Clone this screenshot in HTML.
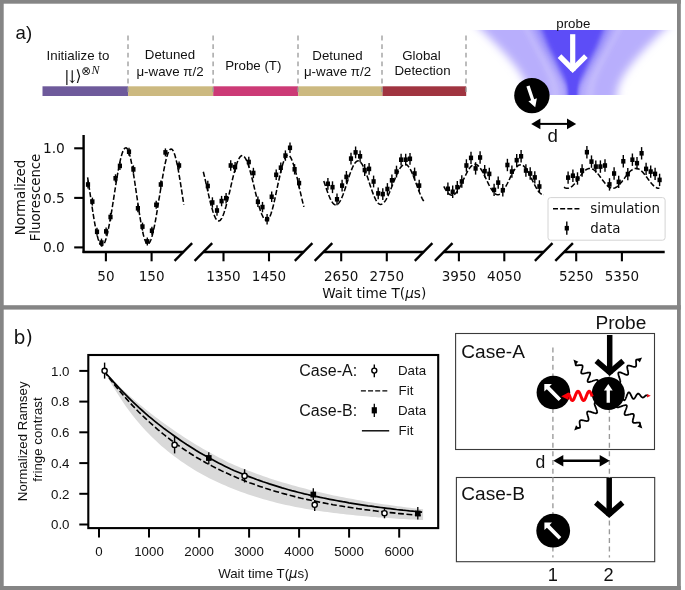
<!DOCTYPE html>
<html lang="en"><head><meta charset="utf-8"><title>Figure</title>
<style>
html,body{margin:0;padding:0;background:#fff;}
body{width:685px;height:590px;overflow:hidden;}
svg{display:block;}
.s{font-family:"Liberation Sans", Arial, sans-serif;fill:#111;}
.d{font-family:"DejaVu Sans", "Liberation Sans", sans-serif;fill:#111;}
</style></head><body>
<svg width="685" height="590" viewBox="0 0 685 590">
<defs>
<filter id="b4" x="-20%" y="-20%" width="140%" height="140%"><feGaussianBlur stdDeviation="4"/></filter>
<filter id="b2" x="-20%" y="-20%" width="140%" height="140%"><feGaussianBlur stdDeviation="2.2"/></filter>
<filter id="b15" x="-20%" y="-20%" width="140%" height="140%"><feGaussianBlur stdDeviation="1.8"/></filter>
<filter id="b3" x="-20%" y="-20%" width="140%" height="140%"><feGaussianBlur stdDeviation="3"/></filter>
<filter id="b25" x="-20%" y="-20%" width="140%" height="140%"><feGaussianBlur stdDeviation="2.6"/></filter>
<filter id="b1" x="-20%" y="-20%" width="140%" height="140%"><feGaussianBlur stdDeviation="1.2"/></filter>
<clipPath id="beamclip"><rect x="468" y="30" width="209" height="65"/></clipPath>
</defs>
<rect x="0" y="0" width="685" height="590" fill="#fff"/>

<g fill="#858585">
<rect x="0" y="0" width="680.8" height="3.7"/>
<rect x="0" y="0" width="3.7" height="590"/>
<rect x="677" y="0" width="3.8" height="590"/>
<rect x="0" y="586" width="680.8" height="4"/>
<rect x="0" y="305.2" width="680.8" height="4.4"/>
</g>
<text class="s" x="15.6" y="39.3" font-size="18.6">a)</text>
<rect x="42.5" y="86.3" width="85.6" height="9.7" fill="#6e5a9b"/>
<rect x="128.1" y="86.3" width="85.1" height="9.7" fill="#ccb980"/>
<rect x="213.2" y="86.3" width="85.0" height="9.7" fill="#cc3a76"/>
<rect x="298.2" y="86.3" width="84.30000000000001" height="9.7" fill="#ccb980"/>
<rect x="382.5" y="86.3" width="83.69999999999999" height="9.7" fill="#a03440"/>
<line x1="128" y1="35.6" x2="128" y2="92.5" stroke="#999" stroke-width="1.3" stroke-dasharray="4.8 3.8"/>
<line x1="213.1" y1="35.6" x2="213.1" y2="92.5" stroke="#999" stroke-width="1.3" stroke-dasharray="4.8 3.8"/>
<line x1="298" y1="35.6" x2="298" y2="92.5" stroke="#999" stroke-width="1.3" stroke-dasharray="4.8 3.8"/>
<line x1="382" y1="35.6" x2="382" y2="92.5" stroke="#999" stroke-width="1.3" stroke-dasharray="4.8 3.8"/>
<line x1="466" y1="35.6" x2="466" y2="92.5" stroke="#999" stroke-width="1.3" stroke-dasharray="4.8 3.8"/>
<text class="s" x="78" y="59.5" font-size="13.3" text-anchor="middle" >Initialize to</text>
<g font-family='"DejaVu Serif","Liberation Serif",serif' fill="#111"><text x="64.3" y="80.6" font-size="15.5">|</text><text transform="translate(66.0,82.8) scale(0.85,1)" font-size="17.5">↓</text><text x="75.4" y="80.6" font-size="15.5">⟩</text><text x="81.3" y="74.6" font-size="11.6" font-family='"DejaVu Sans",sans-serif'>⊗</text><text x="91.6" y="73.8" font-size="12" font-style="italic" font-family='"Liberation Serif",serif'>N</text></g>
<text class="s" x="170" y="59.0" font-size="13.3" text-anchor="middle" >Detuned</text>
<text class="s" x="170" y="75.7" font-size="13.3" text-anchor="middle" >μ-wave π/2</text>
<text class="s" x="253.3" y="69.7" font-size="13.3" text-anchor="middle" >Probe (T)</text>
<text class="s" x="337.5" y="59.5" font-size="13.3" text-anchor="middle" >Detuned</text>
<text class="s" x="337.5" y="76" font-size="13.3" text-anchor="middle" >μ-wave π/2</text>
<text class="s" x="421.5" y="59.6" font-size="13.3" text-anchor="middle" >Global</text>
<text class="s" x="422.5" y="74.9" font-size="13.3" text-anchor="middle" >Detection</text>
<g clip-path="url(#beamclip)">
<path d="M471.1,20.0 L474.1,22.8 L477.1,25.7 L480.1,28.5 L483.1,31.3 L486.0,34.2 L488.9,37.0 L491.7,39.8 L494.5,42.7 L497.3,45.5 L500.0,48.3 L502.7,51.2 L505.2,54.0 L507.8,56.8 L510.2,59.7 L512.5,62.5 L514.8,65.3 L516.9,68.2 L518.9,71.0 L520.8,73.8 L522.5,76.7 L524.0,79.5 L525.4,82.3 L526.5,85.2 L527.4,88.0 L528.1,90.8 L528.5,93.7 L528.7,96.5 L528.6,99.3 L528.3,102.2 L527.7,105.0 L617.7,105.0 L617.1,102.2 L616.8,99.3 L616.7,96.5 L616.9,93.7 L617.3,90.8 L618.0,88.0 L618.9,85.2 L620.0,82.3 L621.4,79.5 L622.9,76.7 L624.6,73.8 L626.5,71.0 L628.5,68.2 L630.6,65.3 L632.9,62.5 L635.2,59.7 L637.6,56.8 L640.2,54.0 L642.7,51.2 L645.4,48.3 L648.1,45.5 L650.9,42.7 L653.7,39.8 L656.5,37.0 L659.4,34.2 L662.3,31.3 L665.3,28.5 L668.3,25.7 L671.3,22.8 L674.3,20.0Z" fill="#b8aefc" filter="url(#b4)"/>
<path d="M525.2,24 L528.7,30 L537.7,47 L544.2,60 L548.2,69 L551.2,76 L553.7,84 L555.2,93 L555.7,100" fill="none" stroke="#fff" stroke-opacity="0.17" stroke-width="7" filter="url(#b25)"/>
<path d="M620.2,24 L616.7,30 L607.7,47 L601.2,60 L597.2,69 L594.2,76 L591.7,84 L590.2,93 L589.7,100" fill="none" stroke="#fff" stroke-opacity="0.17" stroke-width="7" filter="url(#b25)"/>
<path d="M525.4,20.0 L530.6,30.0 L539.6,47.0 L547.8,60.0 L553.1,69.0 L557.4,76.0 L559.7,80.0 L561.9,84.0 L563.7,88.5 L564.7,93.0 L564.7,105.0 L580.7,105.0 L580.7,93.0 L581.7,88.5 L583.5,84.0 L585.7,80.0 L588.0,76.0 L592.3,69.0 L597.6,60.0 L605.8,47.0 L614.8,30.0 L620.0,20.0Z" fill="#aea4fb" filter="url(#b3)"/>
<path d="M532.0,20.0 L536.6,30.0 L544.5,47.0 L552.0,60.0 L556.8,69.0 L560.6,76.0 L562.7,80.0 L564.7,84.0 L566.1,88.5 L566.9,93.0 L566.9,105.0 L578.5,105.0 L578.5,93.0 L579.3,88.5 L580.7,84.0 L582.7,80.0 L584.8,76.0 L588.6,69.0 L593.4,60.0 L600.9,47.0 L608.8,30.0 L613.4,20.0Z" fill="#9389f9" filter="url(#b25)"/>
<path d="M538.1,20.0 L542.2,30.0 L549.1,47.0 L555.8,60.0 L560.0,69.0 L563.4,76.0 L565.3,80.0 L567.0,84.0 L568.2,88.5 L568.7,93.0 L568.7,105.0 L576.7,105.0 L576.7,93.0 L577.2,88.5 L578.4,84.0 L580.1,80.0 L582.0,76.0 L585.4,69.0 L589.6,60.0 L596.3,47.0 L603.2,30.0 L607.3,20.0Z" fill="#5d4df7" filter="url(#b2)"/>
<path d="M566.7,70.0 L567.1,76.0 L567.7,80.0 L568.3,84.0 L568.7,88.5 L568.9,93.0 L568.9,105.0 L576.5,105.0 L576.5,93.0 L576.7,88.5 L577.1,84.0 L577.7,80.0 L578.3,76.0 L578.7,70.0Z" fill="#5d4df7" filter="url(#b1)"/>
</g>
<path d="M572.7,34.2 V71" stroke="#fff" stroke-width="5.2" fill="none"/>
<path d="M559.5,56.2 L572.7,69.4 L585.9000000000001,56.2" stroke="#fff" stroke-width="5.2" fill="none" stroke-linejoin="miter"/>
<text class="s" x="573.3" y="27.5" font-size="13.3" text-anchor="middle" >probe</text>
<circle cx="531.9" cy="95.6" r="17.7" fill="#000"/>
<polygon points="526.4,86.5 531.1,100.2 528.4,101.2 535.2,107.3 536.9,98.3 534.2,99.2 529.6,85.5" fill="#fff"/>
<line x1="539.4000000000001" y1="123.9" x2="568.0" y2="123.9" stroke="#000" stroke-width="2.0"/>
<polygon points="531.2,123.9 540.4000000000001,118.5 540.4000000000001,129.3" fill="#000"/>
<polygon points="576.2,123.9 567.0,118.5 567.0,129.3" fill="#000"/>
<text class="s" x="552.8" y="141.5" font-size="18.7" text-anchor="middle" >d</text>
<g stroke="#000" stroke-width="2.4" fill="none" stroke-linecap="butt">
<path d="M83.6,135 V253"/>
<path d="M82.6,252 H183.35"/>
<path d="M203.4,252 H303.6"/>
<path d="M323.5,252 H423.6"/>
<path d="M443.7,252 H543.7"/>
<path d="M564.1,252 H664.7"/>
<path d="M74.2,247.4 H83.6" stroke-width="2.1"/>
<path d="M74.2,197.9 H83.6" stroke-width="2.1"/>
<path d="M74.2,148.3 H83.6" stroke-width="2.1"/>
<path d="M105.9,252 V261.3" stroke-width="2.1"/>
<path d="M151.6,252 V261.3" stroke-width="2.1"/>
<path d="M223.5,252 V261.3" stroke-width="2.1"/>
<path d="M269.0,252 V261.3" stroke-width="2.1"/>
<path d="M341.2,252 V261.3" stroke-width="2.1"/>
<path d="M386.8,252 V261.3" stroke-width="2.1"/>
<path d="M458.9,252 V261.3" stroke-width="2.1"/>
<path d="M504.3,252 V261.3" stroke-width="2.1"/>
<path d="M576.2,252 V261.3" stroke-width="2.1"/>
<path d="M621.9,252 V261.3" stroke-width="2.1"/>
<path d="M174.54999999999998,260.8 L192.15,243.2"/>
<path d="M194.6,260.8 L212.20000000000002,243.2"/>
<path d="M294.8,260.8 L312.40000000000003,243.2"/>
<path d="M314.7,260.8 L332.3,243.2"/>
<path d="M414.8,260.8 L432.40000000000003,243.2"/>
<path d="M434.9,260.8 L452.5,243.2"/>
<path d="M534.9000000000001,260.8 L552.5,243.2"/>
<path d="M555.3000000000001,260.8 L572.9,243.2"/>
</g>
<text class="d" x="105.9" y="280.8" font-size="13.5" text-anchor="middle" >50</text>
<text class="d" x="151.6" y="280.8" font-size="13.5" text-anchor="middle" >150</text>
<text class="d" x="223.5" y="280.8" font-size="13.5" text-anchor="middle" >1350</text>
<text class="d" x="269.0" y="280.8" font-size="13.5" text-anchor="middle" >1450</text>
<text class="d" x="341.2" y="280.8" font-size="13.5" text-anchor="middle" >2650</text>
<text class="d" x="386.8" y="280.8" font-size="13.5" text-anchor="middle" >2750</text>
<text class="d" x="458.9" y="280.8" font-size="13.5" text-anchor="middle" >3950</text>
<text class="d" x="504.3" y="280.8" font-size="13.5" text-anchor="middle" >4050</text>
<text class="d" x="576.2" y="280.8" font-size="13.5" text-anchor="middle" >5250</text>
<text class="d" x="621.9" y="280.8" font-size="13.5" text-anchor="middle" >5350</text>
<text class="d" x="64.9" y="252.4" font-size="13.8" text-anchor="end">0.0</text>
<text class="d" x="64.9" y="202.9" font-size="13.8" text-anchor="end">0.5</text>
<text class="d" x="64.9" y="153.3" font-size="13.8" text-anchor="end">1.0</text>
<text class="d" font-size="13.3" text-anchor="middle" transform="translate(25.2,197.5) rotate(-90)">Normalized</text>
<text class="d" font-size="13.3" text-anchor="middle" transform="translate(40,197.5) rotate(-90)">Fluorescence</text>
<text class="d" x="374.2" y="297.5" font-size="13.6" text-anchor="middle">Wait time T(<tspan font-style="italic">μ</tspan>s)</text>
<path d="M87.6,177.4 L88.4,182.5 L89.2,187.7 L90.0,193.0 L90.8,198.4 L91.6,203.8 L92.4,209.0 L93.2,214.2 L94.0,219.1 L94.8,223.7 L95.6,228.0 L96.4,232.0 L97.2,235.5 L98.0,238.5 L98.8,241.0 L99.6,243.0 L100.4,244.5 L101.2,245.3 L102.0,245.6 L102.8,245.3 L103.6,244.5 L104.4,243.1 L105.2,241.2 L106.0,238.8 L106.8,236.0 L107.6,232.7 L108.4,229.0 L109.2,224.9 L110.0,220.5 L110.8,215.9 L111.7,211.0 L112.5,206.0 L113.3,200.9 L114.1,195.7 L114.9,190.5 L115.7,185.5 L116.5,180.5 L117.3,175.7 L118.1,171.2 L118.9,166.9 L119.7,163.0 L120.5,159.4 L121.3,156.3 L122.1,153.6 L122.9,151.4 L123.7,149.7 L124.5,148.5 L125.3,147.9 L126.1,147.8 L126.9,148.4 L127.7,149.5 L128.5,151.3 L129.3,153.6 L130.1,156.5 L130.9,160.0 L131.7,163.8 L132.5,168.1 L133.3,172.8 L134.1,177.8 L134.9,183.0 L135.7,188.4 L136.5,193.9 L137.3,199.4 L138.1,204.8 L138.9,210.2 L139.7,215.3 L140.5,220.2 L141.3,224.8 L142.1,229.0 L142.9,232.8 L143.7,236.1 L144.5,238.8 L145.3,241.0 L146.1,242.6 L146.9,243.6 L147.7,244.0 L148.5,243.8 L149.3,243.0 L150.1,241.7 L150.9,239.8 L151.7,237.5 L152.5,234.6 L153.3,231.4 L154.1,227.7 L154.9,223.6 L155.7,219.3 L156.5,214.6 L157.3,209.8 L158.1,204.8 L158.9,199.7 L159.8,194.6 L160.6,189.5 L161.4,184.4 L162.2,179.6 L163.0,174.9 L163.8,170.4 L164.6,166.3 L165.4,162.5 L166.2,159.1 L167.0,156.2 L167.8,153.7 L168.6,151.7 L169.4,150.3 L170.2,149.4 L171.0,149.0 L171.8,149.2 L172.6,150.0 L173.4,151.3 L174.2,153.2 L175.0,155.6 L175.8,158.5 L176.6,161.8 L177.4,165.6 L178.2,169.7 L179.0,174.2 L179.8,179.0 L180.6,183.9 L181.4,189.0 L182.2,194.2 L183.0,199.4 L183.8,204.6" fill="none" stroke="#000" stroke-width="1.55" stroke-dasharray="5.2 2.2"/>
<path d="M203.3,171.8 L204.1,175.0 L204.9,178.4 L205.7,181.9 L206.5,185.5 L207.3,189.1 L208.1,192.7 L208.9,196.2 L209.7,199.7 L210.5,203.0 L211.3,206.1 L212.2,209.0 L213.0,211.7 L213.8,214.1 L214.6,216.1 L215.4,217.8 L216.2,219.2 L217.0,220.2 L217.8,220.8 L218.6,221.0 L219.4,220.8 L220.2,220.3 L221.0,219.3 L221.8,218.1 L222.6,216.4 L223.4,214.5 L224.2,212.3 L225.0,209.7 L225.8,207.0 L226.6,204.0 L227.4,200.8 L228.2,197.5 L229.1,194.1 L229.9,190.7 L230.7,187.2 L231.5,183.7 L232.3,180.2 L233.1,176.9 L233.9,173.7 L234.7,170.6 L235.5,167.8 L236.3,165.2 L237.1,162.8 L237.9,160.8 L238.7,159.1 L239.5,157.7 L240.3,156.6 L241.1,155.9 L241.9,155.6 L242.7,155.7 L243.5,156.1 L244.3,156.8 L245.1,157.9 L246.0,159.3 L246.8,161.0 L247.6,163.0 L248.4,165.3 L249.2,167.8 L250.0,170.5 L250.8,173.5 L251.6,176.5 L252.4,179.7 L253.2,183.0 L254.0,186.3 L254.8,189.7 L255.6,193.0 L256.4,196.3 L257.2,199.5 L258.0,202.6 L258.8,205.5 L259.6,208.2 L260.4,210.7 L261.2,213.0 L262.1,215.0 L262.9,216.7 L263.7,218.1 L264.5,219.2 L265.3,219.9 L266.1,220.3 L266.9,220.4 L267.7,220.0 L268.5,219.1 L269.3,217.9 L270.1,216.2 L270.9,214.1 L271.7,211.6 L272.5,208.8 L273.3,205.7 L274.1,202.3 L274.9,198.8 L275.7,195.0 L276.5,191.2 L277.3,187.4 L278.1,183.5 L279.0,179.7 L279.8,176.0 L280.6,172.5 L281.4,169.2 L282.2,166.2 L283.0,163.4 L283.8,161.0 L284.6,159.0 L285.4,157.4 L286.2,156.2 L287.0,155.5 L287.8,155.2 L288.6,155.4 L289.4,155.9 L290.2,156.8 L291.0,158.1 L291.8,159.8 L292.6,161.8 L293.4,164.2 L294.2,166.8 L295.0,169.7 L295.9,172.7 L296.7,176.0 L297.5,179.4 L298.3,183.0 L299.1,186.6 L299.9,190.2 L300.7,193.7 L301.5,197.2 L302.3,200.6 L303.1,203.8 L303.9,206.9" fill="none" stroke="#000" stroke-width="1.55" stroke-dasharray="5.2 2.2"/>
<path d="M323.8,181.0 L324.6,183.4 L325.4,185.8 L326.2,188.2 L327.0,190.5 L327.8,192.7 L328.6,194.8 L329.4,196.8 L330.2,198.6 L331.0,200.2 L331.8,201.6 L332.6,202.8 L333.4,203.7 L334.2,204.4 L335.0,204.8 L335.8,205.0 L336.6,204.9 L337.4,204.5 L338.2,203.8 L339.0,202.9 L339.8,201.7 L340.6,200.3 L341.4,198.7 L342.2,196.8 L343.0,194.8 L343.8,192.6 L344.6,190.3 L345.4,187.9 L346.2,185.4 L347.0,183.0 L347.8,180.5 L348.6,178.0 L349.4,175.6 L350.2,173.3 L351.0,171.1 L351.8,169.1 L352.6,167.2 L353.4,165.6 L354.2,164.2 L355.0,163.0 L355.8,162.1 L356.6,161.4 L357.4,161.0 L358.2,160.9 L359.0,161.1 L359.8,161.5 L360.6,162.2 L361.4,163.2 L362.2,164.4 L363.0,165.8 L363.8,167.5 L364.6,169.3 L365.4,171.3 L366.2,173.5 L367.0,175.8 L367.8,178.1 L368.6,180.5 L369.4,183.0 L370.2,185.4 L371.0,187.8 L371.8,190.1 L372.6,192.4 L373.4,194.5 L374.2,196.4 L375.0,198.2 L375.8,199.8 L376.6,201.2 L377.4,202.4 L378.2,203.3 L379.0,203.9 L379.8,204.3 L380.6,204.4 L381.4,204.3 L382.2,203.9 L383.0,203.4 L383.8,202.6 L384.6,201.7 L385.4,200.6 L386.2,199.3 L387.0,197.8 L387.8,196.2 L388.6,194.5 L389.4,192.7 L390.2,190.8 L391.0,188.8 L391.8,186.8 L392.6,184.7 L393.4,182.7 L394.2,180.6 L395.0,178.6 L395.8,176.7 L396.6,174.8 L397.4,173.1 L398.2,171.5 L399.0,169.9 L399.8,168.6 L400.6,167.4 L401.4,166.4 L402.2,165.6 L403.0,165.0 L403.8,164.5 L404.6,164.3 L405.4,164.3 L406.2,164.6 L407.0,165.0 L407.8,165.8 L408.6,166.7 L409.4,167.8 L410.2,169.2 L411.0,170.7 L411.8,172.4 L412.6,174.2 L413.4,176.2 L414.2,178.3 L415.0,180.4 L415.8,182.6 L416.6,184.8 L417.4,187.0 L418.2,189.1 L419.0,191.2 L419.8,193.2 L420.6,195.2 L421.4,196.9 L422.2,198.6 L423.0,200.0 L423.8,201.3" fill="none" stroke="#000" stroke-width="1.55" stroke-dasharray="5.2 2.2"/>
<path d="M443.8,186.4 L444.6,187.9 L445.4,189.3 L446.2,190.6 L447.0,191.7 L447.8,192.7 L448.6,193.6 L449.4,194.2 L450.2,194.7 L451.0,195.1 L451.8,195.2 L452.6,195.1 L453.4,194.9 L454.2,194.5 L455.0,193.9 L455.8,193.1 L456.6,192.2 L457.4,191.1 L458.2,189.9 L459.0,188.6 L459.8,187.1 L460.6,185.6 L461.4,184.0 L462.2,182.3 L463.0,180.6 L463.8,178.9 L464.6,177.2 L465.4,175.6 L466.2,174.0 L467.0,172.4 L467.8,171.0 L468.6,169.6 L469.5,168.4 L470.3,167.3 L471.1,166.4 L471.9,165.6 L472.7,165.0 L473.5,164.6 L474.3,164.4 L475.1,164.3 L475.9,164.4 L476.7,164.7 L477.5,165.2 L478.3,165.9 L479.1,166.7 L479.9,167.7 L480.7,168.8 L481.5,170.1 L482.3,171.4 L483.1,172.9 L483.9,174.4 L484.7,176.1 L485.5,177.7 L486.3,179.4 L487.1,181.0 L487.9,182.7 L488.7,184.3 L489.5,185.8 L490.3,187.3 L491.1,188.7 L491.9,190.0 L492.7,191.1 L493.5,192.1 L494.3,193.0 L495.1,193.7 L495.9,194.2 L496.7,194.5 L497.5,194.7 L498.3,194.7 L499.1,194.5 L499.9,194.1 L500.7,193.5 L501.5,192.8 L502.3,191.9 L503.1,190.9 L503.9,189.7 L504.7,188.4 L505.5,187.0 L506.3,185.5 L507.1,184.0 L507.9,182.4 L508.7,180.7 L509.5,179.1 L510.3,177.4 L511.1,175.8 L511.9,174.2 L512.7,172.7 L513.5,171.3 L514.3,170.0 L515.1,168.8 L515.9,167.8 L516.7,166.9 L517.5,166.1 L518.3,165.5 L519.2,165.1 L520.0,164.9 L520.8,164.8 L521.6,164.9 L522.4,165.2 L523.2,165.7 L524.0,166.4 L524.8,167.2 L525.6,168.1 L526.4,169.2 L527.2,170.5 L528.0,171.8 L528.8,173.2 L529.6,174.8 L530.4,176.3 L531.2,178.0 L532.0,179.6 L532.8,181.2 L533.6,182.9 L534.4,184.4 L535.2,186.0 L536.0,187.4 L536.8,188.8 L537.6,190.0 L538.4,191.2 L539.2,192.2 L540.0,193.0 L540.8,193.7 L541.6,194.2 L542.4,194.5 L543.2,194.7 L544.0,194.7" fill="none" stroke="#000" stroke-width="1.55" stroke-dasharray="5.2 2.2"/>
<path d="M564.0,187.2 L564.8,187.7 L565.6,188.0 L566.4,188.2 L567.2,188.3 L568.0,188.3 L568.8,188.1 L569.6,187.8 L570.4,187.4 L571.2,186.9 L572.0,186.3 L572.8,185.6 L573.6,184.8 L574.4,183.9 L575.2,182.9 L576.0,181.9 L576.8,180.9 L577.6,179.8 L578.4,178.7 L579.2,177.5 L580.0,176.4 L580.8,175.4 L581.6,174.3 L582.4,173.3 L583.2,172.4 L584.0,171.5 L584.8,170.8 L585.6,170.1 L586.4,169.5 L587.2,169.1 L588.1,168.7 L588.9,168.5 L589.7,168.4 L590.5,168.4 L591.3,168.6 L592.1,168.8 L592.9,169.2 L593.7,169.7 L594.5,170.3 L595.3,171.0 L596.1,171.8 L596.9,172.6 L597.7,173.6 L598.5,174.6 L599.3,175.6 L600.1,176.7 L600.9,177.8 L601.7,178.9 L602.5,180.0 L603.3,181.0 L604.1,182.1 L604.9,183.1 L605.7,184.0 L606.5,184.9 L607.3,185.7 L608.1,186.4 L608.9,187.0 L609.7,187.5 L610.5,187.8 L611.3,188.1 L612.1,188.3 L612.9,188.3 L613.7,188.2 L614.5,188.0 L615.3,187.7 L616.1,187.3 L616.9,186.8 L617.7,186.1 L618.5,185.4 L619.3,184.6 L620.1,183.8 L620.9,182.8 L621.7,181.9 L622.5,180.8 L623.3,179.8 L624.1,178.7 L624.9,177.6 L625.7,176.6 L626.5,175.5 L627.3,174.5 L628.1,173.6 L628.9,172.7 L629.7,171.8 L630.5,171.0 L631.3,170.4 L632.1,169.8 L632.9,169.3 L633.7,168.9 L634.5,168.6 L635.3,168.5 L636.2,168.4 L637.0,168.5 L637.8,168.7 L638.6,169.0 L639.4,169.4 L640.2,169.9 L641.0,170.5 L641.8,171.3 L642.6,172.1 L643.4,172.9 L644.2,173.9 L645.0,174.9 L645.8,175.9 L646.6,177.0 L647.4,178.1 L648.2,179.2 L649.0,180.3 L649.8,181.3 L650.6,182.4 L651.4,183.3 L652.2,184.3 L653.0,185.1 L653.8,185.9 L654.6,186.5 L655.4,187.1 L656.2,187.6 L657.0,187.9 L657.8,188.2 L658.6,188.3 L659.4,188.3" fill="none" stroke="#000" stroke-width="1.55" stroke-dasharray="5.2 2.2"/>
<g>
<path d="M88.0,180.5 V188.5" stroke="#000" stroke-width="1.4"/>
<rect x="85.9" y="182.2" width="4.2" height="4.6" fill="#000"/>
<path d="M92.4,197.6 V205.6" stroke="#000" stroke-width="1.4"/>
<rect x="90.3" y="199.3" width="4.2" height="4.6" fill="#000"/>
<path d="M97.0,227.8 V235.8" stroke="#000" stroke-width="1.4"/>
<rect x="94.9" y="229.5" width="4.2" height="4.6" fill="#000"/>
<path d="M101.5,238.6 V246.6" stroke="#000" stroke-width="1.4"/>
<rect x="99.4" y="240.3" width="4.2" height="4.6" fill="#000"/>
<path d="M106.1,227.4 V235.4" stroke="#000" stroke-width="1.4"/>
<rect x="104.0" y="229.1" width="4.2" height="4.6" fill="#000"/>
<path d="M110.5,213.0 V221.0" stroke="#000" stroke-width="1.4"/>
<rect x="108.4" y="214.7" width="4.2" height="4.6" fill="#000"/>
<path d="M115.5,174.3 V182.3" stroke="#000" stroke-width="1.4"/>
<rect x="113.4" y="176.0" width="4.2" height="4.6" fill="#000"/>
<path d="M119.9,161.9 V169.9" stroke="#000" stroke-width="1.4"/>
<rect x="117.8" y="163.6" width="4.2" height="4.6" fill="#000"/>
<path d="M129.0,147.7 V155.7" stroke="#000" stroke-width="1.4"/>
<rect x="126.9" y="149.4" width="4.2" height="4.6" fill="#000"/>
<path d="M133.4,165.4 V173.4" stroke="#000" stroke-width="1.4"/>
<rect x="131.3" y="167.1" width="4.2" height="4.6" fill="#000"/>
<path d="M137.9,204.3 V212.3" stroke="#000" stroke-width="1.4"/>
<rect x="135.8" y="206.0" width="4.2" height="4.6" fill="#000"/>
<path d="M142.5,222.6 V230.6" stroke="#000" stroke-width="1.4"/>
<rect x="140.4" y="224.3" width="4.2" height="4.6" fill="#000"/>
<path d="M147.3,237.4 V245.4" stroke="#000" stroke-width="1.4"/>
<rect x="145.2" y="239.1" width="4.2" height="4.6" fill="#000"/>
<path d="M151.9,226.7 V234.7" stroke="#000" stroke-width="1.4"/>
<rect x="149.8" y="228.4" width="4.2" height="4.6" fill="#000"/>
<path d="M156.2,200.8 V208.8" stroke="#000" stroke-width="1.4"/>
<rect x="154.1" y="202.5" width="4.2" height="4.6" fill="#000"/>
<path d="M160.8,180.5 V188.5" stroke="#000" stroke-width="1.4"/>
<rect x="158.7" y="182.2" width="4.2" height="4.6" fill="#000"/>
<path d="M165.4,148.4 V156.4" stroke="#000" stroke-width="1.4"/>
<rect x="163.3" y="150.1" width="4.2" height="4.6" fill="#000"/>
<path d="M179.1,161.5 V169.5" stroke="#000" stroke-width="1.4"/>
<rect x="177.0" y="163.2" width="4.2" height="4.6" fill="#000"/>
<path d="M207.8,180.8 V191.2" stroke="#000" stroke-width="1.4"/>
<rect x="205.7" y="183.7" width="4.2" height="4.6" fill="#000"/>
<path d="M212.4,197.3 V207.7" stroke="#000" stroke-width="1.4"/>
<rect x="210.3" y="200.2" width="4.2" height="4.6" fill="#000"/>
<path d="M217.0,205.3 V215.7" stroke="#000" stroke-width="1.4"/>
<rect x="214.9" y="208.2" width="4.2" height="4.6" fill="#000"/>
<path d="M221.6,195.9 V206.3" stroke="#000" stroke-width="1.4"/>
<rect x="219.5" y="198.8" width="4.2" height="4.6" fill="#000"/>
<path d="M226.1,193.0 V203.4" stroke="#000" stroke-width="1.4"/>
<rect x="224.0" y="195.9" width="4.2" height="4.6" fill="#000"/>
<path d="M230.7,160.3 V170.7" stroke="#000" stroke-width="1.4"/>
<rect x="228.6" y="163.2" width="4.2" height="4.6" fill="#000"/>
<path d="M235.1,161.9 V172.3" stroke="#000" stroke-width="1.4"/>
<rect x="233.0" y="164.8" width="4.2" height="4.6" fill="#000"/>
<path d="M248.8,156.8 V167.2" stroke="#000" stroke-width="1.4"/>
<rect x="246.7" y="159.7" width="4.2" height="4.6" fill="#000"/>
<path d="M253.4,167.8 V178.2" stroke="#000" stroke-width="1.4"/>
<rect x="251.3" y="170.7" width="4.2" height="4.6" fill="#000"/>
<path d="M257.9,196.6 V207.0" stroke="#000" stroke-width="1.4"/>
<rect x="255.8" y="199.5" width="4.2" height="4.6" fill="#000"/>
<path d="M262.5,201.9 V212.3" stroke="#000" stroke-width="1.4"/>
<rect x="260.4" y="204.8" width="4.2" height="4.6" fill="#000"/>
<path d="M267.1,214.0 V224.4" stroke="#000" stroke-width="1.4"/>
<rect x="265.0" y="216.9" width="4.2" height="4.6" fill="#000"/>
<path d="M271.7,191.6 V202.0" stroke="#000" stroke-width="1.4"/>
<rect x="269.6" y="194.5" width="4.2" height="4.6" fill="#000"/>
<path d="M276.2,169.6 V180.0" stroke="#000" stroke-width="1.4"/>
<rect x="274.1" y="172.5" width="4.2" height="4.6" fill="#000"/>
<path d="M280.8,162.5 V172.9" stroke="#000" stroke-width="1.4"/>
<rect x="278.7" y="165.4" width="4.2" height="4.6" fill="#000"/>
<path d="M285.4,150.4 V160.8" stroke="#000" stroke-width="1.4"/>
<rect x="283.3" y="153.3" width="4.2" height="4.6" fill="#000"/>
<path d="M290.0,142.6 V153.0" stroke="#000" stroke-width="1.4"/>
<rect x="287.9" y="145.5" width="4.2" height="4.6" fill="#000"/>
<path d="M294.6,164.1 V174.5" stroke="#000" stroke-width="1.4"/>
<rect x="292.5" y="167.0" width="4.2" height="4.6" fill="#000"/>
<path d="M299.1,177.9 V188.3" stroke="#000" stroke-width="1.4"/>
<rect x="297.0" y="180.8" width="4.2" height="4.6" fill="#000"/>
<path d="M327.9,177.9 V189.7" stroke="#000" stroke-width="1.4"/>
<rect x="325.8" y="181.5" width="4.2" height="4.6" fill="#000"/>
<path d="M332.5,181.3 V193.1" stroke="#000" stroke-width="1.4"/>
<rect x="330.4" y="184.9" width="4.2" height="4.6" fill="#000"/>
<path d="M337.0,193.4 V205.2" stroke="#000" stroke-width="1.4"/>
<rect x="334.9" y="197.0" width="4.2" height="4.6" fill="#000"/>
<path d="M342.1,179.7 V191.5" stroke="#000" stroke-width="1.4"/>
<rect x="340.0" y="183.3" width="4.2" height="4.6" fill="#000"/>
<path d="M346.4,171.0 V182.8" stroke="#000" stroke-width="1.4"/>
<rect x="344.3" y="174.6" width="4.2" height="4.6" fill="#000"/>
<path d="M351.0,152.7 V164.5" stroke="#000" stroke-width="1.4"/>
<rect x="348.9" y="156.3" width="4.2" height="4.6" fill="#000"/>
<path d="M355.6,146.5 V158.3" stroke="#000" stroke-width="1.4"/>
<rect x="353.5" y="150.1" width="4.2" height="4.6" fill="#000"/>
<path d="M360.1,150.4 V162.2" stroke="#000" stroke-width="1.4"/>
<rect x="358.0" y="154.0" width="4.2" height="4.6" fill="#000"/>
<path d="M364.7,164.1 V175.9" stroke="#000" stroke-width="1.4"/>
<rect x="362.6" y="167.7" width="4.2" height="4.6" fill="#000"/>
<path d="M369.1,163.0 V174.8" stroke="#000" stroke-width="1.4"/>
<rect x="367.0" y="166.6" width="4.2" height="4.6" fill="#000"/>
<path d="M373.6,175.6 V187.4" stroke="#000" stroke-width="1.4"/>
<rect x="371.5" y="179.2" width="4.2" height="4.6" fill="#000"/>
<path d="M378.2,187.5 V199.3" stroke="#000" stroke-width="1.4"/>
<rect x="376.1" y="191.1" width="4.2" height="4.6" fill="#000"/>
<path d="M382.8,188.2 V200.0" stroke="#000" stroke-width="1.4"/>
<rect x="380.7" y="191.8" width="4.2" height="4.6" fill="#000"/>
<path d="M387.4,183.1 V194.9" stroke="#000" stroke-width="1.4"/>
<rect x="385.3" y="186.7" width="4.2" height="4.6" fill="#000"/>
<path d="M391.9,174.4 V186.2" stroke="#000" stroke-width="1.4"/>
<rect x="389.8" y="178.0" width="4.2" height="4.6" fill="#000"/>
<path d="M396.5,165.7 V177.5" stroke="#000" stroke-width="1.4"/>
<rect x="394.4" y="169.3" width="4.2" height="4.6" fill="#000"/>
<path d="M401.1,153.8 V165.6" stroke="#000" stroke-width="1.4"/>
<rect x="399.0" y="157.4" width="4.2" height="4.6" fill="#000"/>
<path d="M405.7,153.8 V165.6" stroke="#000" stroke-width="1.4"/>
<rect x="403.6" y="157.4" width="4.2" height="4.6" fill="#000"/>
<path d="M410.0,152.9 V164.7" stroke="#000" stroke-width="1.4"/>
<rect x="407.9" y="156.5" width="4.2" height="4.6" fill="#000"/>
<path d="M414.6,167.6 V179.4" stroke="#000" stroke-width="1.4"/>
<rect x="412.5" y="171.2" width="4.2" height="4.6" fill="#000"/>
<path d="M419.2,179.7 V191.5" stroke="#000" stroke-width="1.4"/>
<rect x="417.1" y="183.3" width="4.2" height="4.6" fill="#000"/>
<path d="M447.9,182.6 V195.0" stroke="#000" stroke-width="1.4"/>
<rect x="445.8" y="186.5" width="4.2" height="4.6" fill="#000"/>
<path d="M452.7,185.6 V198.0" stroke="#000" stroke-width="1.4"/>
<rect x="450.6" y="189.5" width="4.2" height="4.6" fill="#000"/>
<path d="M457.3,181.0 V193.4" stroke="#000" stroke-width="1.4"/>
<rect x="455.2" y="184.9" width="4.2" height="4.6" fill="#000"/>
<path d="M461.8,175.3 V187.7" stroke="#000" stroke-width="1.4"/>
<rect x="459.7" y="179.2" width="4.2" height="4.6" fill="#000"/>
<path d="M466.4,159.3 V171.7" stroke="#000" stroke-width="1.4"/>
<rect x="464.3" y="163.2" width="4.2" height="4.6" fill="#000"/>
<path d="M471.0,151.7 V164.1" stroke="#000" stroke-width="1.4"/>
<rect x="468.9" y="155.6" width="4.2" height="4.6" fill="#000"/>
<path d="M475.6,162.2 V174.6" stroke="#000" stroke-width="1.4"/>
<rect x="473.5" y="166.1" width="4.2" height="4.6" fill="#000"/>
<path d="M480.1,151.3 V163.7" stroke="#000" stroke-width="1.4"/>
<rect x="478.0" y="155.2" width="4.2" height="4.6" fill="#000"/>
<path d="M484.7,165.0 V177.4" stroke="#000" stroke-width="1.4"/>
<rect x="482.6" y="168.9" width="4.2" height="4.6" fill="#000"/>
<path d="M489.3,167.7 V180.1" stroke="#000" stroke-width="1.4"/>
<rect x="487.2" y="171.6" width="4.2" height="4.6" fill="#000"/>
<path d="M494.1,183.7 V196.1" stroke="#000" stroke-width="1.4"/>
<rect x="492.0" y="187.6" width="4.2" height="4.6" fill="#000"/>
<path d="M498.2,176.4 V188.8" stroke="#000" stroke-width="1.4"/>
<rect x="496.1" y="180.3" width="4.2" height="4.6" fill="#000"/>
<path d="M502.8,184.0 V196.4" stroke="#000" stroke-width="1.4"/>
<rect x="500.7" y="187.9" width="4.2" height="4.6" fill="#000"/>
<path d="M507.4,158.8 V171.2" stroke="#000" stroke-width="1.4"/>
<rect x="505.3" y="162.7" width="4.2" height="4.6" fill="#000"/>
<path d="M511.9,165.4 V177.8" stroke="#000" stroke-width="1.4"/>
<rect x="509.8" y="169.3" width="4.2" height="4.6" fill="#000"/>
<path d="M516.7,154.0 V166.4" stroke="#000" stroke-width="1.4"/>
<rect x="514.6" y="157.9" width="4.2" height="4.6" fill="#000"/>
<path d="M521.1,150.1 V162.5" stroke="#000" stroke-width="1.4"/>
<rect x="519.0" y="154.0" width="4.2" height="4.6" fill="#000"/>
<path d="M525.9,164.3 V176.7" stroke="#000" stroke-width="1.4"/>
<rect x="523.8" y="168.2" width="4.2" height="4.6" fill="#000"/>
<path d="M530.2,167.3 V179.7" stroke="#000" stroke-width="1.4"/>
<rect x="528.1" y="171.2" width="4.2" height="4.6" fill="#000"/>
<path d="M534.8,171.2 V183.6" stroke="#000" stroke-width="1.4"/>
<rect x="532.7" y="175.1" width="4.2" height="4.6" fill="#000"/>
<path d="M539.4,180.3 V192.7" stroke="#000" stroke-width="1.4"/>
<rect x="537.3" y="184.2" width="4.2" height="4.6" fill="#000"/>
<path d="M568.1,171.4 V183.8" stroke="#000" stroke-width="1.4"/>
<rect x="566.0" y="175.3" width="4.2" height="4.6" fill="#000"/>
<path d="M572.9,169.5 V181.9" stroke="#000" stroke-width="1.4"/>
<rect x="570.8" y="173.4" width="4.2" height="4.6" fill="#000"/>
<path d="M577.5,172.3 V184.7" stroke="#000" stroke-width="1.4"/>
<rect x="575.4" y="176.2" width="4.2" height="4.6" fill="#000"/>
<path d="M582.1,164.3 V176.7" stroke="#000" stroke-width="1.4"/>
<rect x="580.0" y="168.2" width="4.2" height="4.6" fill="#000"/>
<path d="M586.9,146.0 V158.4" stroke="#000" stroke-width="1.4"/>
<rect x="584.8" y="149.9" width="4.2" height="4.6" fill="#000"/>
<path d="M591.5,155.4 V167.8" stroke="#000" stroke-width="1.4"/>
<rect x="589.4" y="159.3" width="4.2" height="4.6" fill="#000"/>
<path d="M595.8,160.4 V172.8" stroke="#000" stroke-width="1.4"/>
<rect x="593.7" y="164.3" width="4.2" height="4.6" fill="#000"/>
<path d="M600.4,160.4 V172.8" stroke="#000" stroke-width="1.4"/>
<rect x="598.3" y="164.3" width="4.2" height="4.6" fill="#000"/>
<path d="M605.0,159.3 V171.7" stroke="#000" stroke-width="1.4"/>
<rect x="602.9" y="163.2" width="4.2" height="4.6" fill="#000"/>
<path d="M609.5,178.2 V190.6" stroke="#000" stroke-width="1.4"/>
<rect x="607.4" y="182.1" width="4.2" height="4.6" fill="#000"/>
<path d="M614.1,167.3 V179.7" stroke="#000" stroke-width="1.4"/>
<rect x="612.0" y="171.2" width="4.2" height="4.6" fill="#000"/>
<path d="M618.7,175.7 V188.1" stroke="#000" stroke-width="1.4"/>
<rect x="616.6" y="179.6" width="4.2" height="4.6" fill="#000"/>
<path d="M623.3,155.1 V167.5" stroke="#000" stroke-width="1.4"/>
<rect x="621.2" y="159.0" width="4.2" height="4.6" fill="#000"/>
<path d="M627.8,167.9 V180.3" stroke="#000" stroke-width="1.4"/>
<rect x="625.7" y="171.8" width="4.2" height="4.6" fill="#000"/>
<path d="M632.4,153.5 V165.9" stroke="#000" stroke-width="1.4"/>
<rect x="630.3" y="157.4" width="4.2" height="4.6" fill="#000"/>
<path d="M637.0,157.0 V169.4" stroke="#000" stroke-width="1.4"/>
<rect x="634.9" y="160.9" width="4.2" height="4.6" fill="#000"/>
<path d="M641.6,147.1 V159.5" stroke="#000" stroke-width="1.4"/>
<rect x="639.5" y="151.0" width="4.2" height="4.6" fill="#000"/>
<path d="M646.1,162.7 V175.1" stroke="#000" stroke-width="1.4"/>
<rect x="644.0" y="166.6" width="4.2" height="4.6" fill="#000"/>
<path d="M650.7,165.4 V177.8" stroke="#000" stroke-width="1.4"/>
<rect x="648.6" y="169.3" width="4.2" height="4.6" fill="#000"/>
<path d="M655.1,167.7 V180.1" stroke="#000" stroke-width="1.4"/>
<rect x="653.0" y="171.6" width="4.2" height="4.6" fill="#000"/>
<path d="M659.6,173.7 V186.1" stroke="#000" stroke-width="1.4"/>
<rect x="657.5" y="177.6" width="4.2" height="4.6" fill="#000"/>
</g>
<rect x="548" y="197.6" width="117.1" height="42.6" rx="2.6" fill="#fff" fill-opacity="0.8" stroke="#d4d4d4" stroke-width="1"/>
<path d="M553,208.8 H579.4" stroke="#000" stroke-width="1.4" stroke-dasharray="5 2.15"/>
<text class="d" x="590.2" y="213.2" font-size="13.4">simulation</text>
<path d="M566.8,221.6 V234.8" stroke="#000" stroke-width="1.4"/>
<rect x="564.7" y="225.9" width="4.2" height="4.6" fill="#000"/>
<text class="d" x="590.2" y="233.0" font-size="13.4">data</text>
<text class="d" x="13.5" y="344.1" font-size="18.8">b)</text>
<path d="M104.0,370.9 L107.2,374.2 L110.4,377.5 L113.6,380.7 L116.8,383.8 L120.0,386.9 L123.1,389.9 L126.3,392.8 L129.5,395.7 L132.7,398.5 L135.9,401.3 L139.1,404.0 L142.3,406.6 L145.5,409.2 L148.7,411.8 L151.9,414.3 L155.1,416.7 L158.2,419.1 L161.4,421.5 L164.6,423.8 L167.8,426.0 L171.0,428.3 L174.2,430.5 L177.4,432.7 L180.6,434.8 L183.8,436.9 L187.0,439.0 L190.2,441.0 L193.3,443.0 L196.5,444.9 L199.7,446.8 L202.9,448.7 L206.1,450.5 L209.3,452.3 L212.5,454.1 L215.7,455.8 L218.9,457.5 L222.1,459.1 L225.3,460.8 L228.4,462.4 L231.6,463.8 L234.8,465.2 L238.0,466.5 L241.2,467.9 L244.4,469.1 L247.6,470.4 L250.8,471.6 L254.0,472.8 L257.2,474.0 L260.4,475.1 L263.5,476.2 L266.7,477.3 L269.9,478.4 L273.1,479.4 L276.3,480.4 L279.5,481.4 L282.7,482.4 L285.9,483.3 L289.1,484.2 L292.3,485.2 L295.5,486.1 L298.6,486.9 L301.8,487.8 L305.0,488.6 L308.2,489.4 L311.4,490.2 L314.6,491.0 L317.8,491.8 L321.0,492.5 L324.2,493.3 L327.4,494.0 L330.6,494.7 L333.7,495.4 L336.9,496.0 L340.1,496.7 L343.3,497.3 L346.5,497.9 L349.7,498.5 L352.9,499.1 L356.1,499.7 L359.3,500.3 L362.5,500.8 L365.7,501.4 L368.8,501.9 L372.0,502.4 L375.2,502.9 L378.4,503.4 L381.6,503.9 L384.8,504.4 L388.0,504.8 L391.2,505.3 L394.4,505.7 L397.6,506.2 L400.8,506.6 L403.9,507.0 L407.1,507.4 L410.3,507.8 L413.5,508.2 L416.7,508.5 L419.9,508.9 L423.1,509.3 L423.1,520.1 L419.9,519.9 L416.7,519.8 L413.5,519.6 L410.3,519.4 L407.1,519.3 L403.9,519.1 L400.8,518.9 L397.6,518.7 L394.4,518.5 L391.2,518.3 L388.0,518.1 L384.8,517.8 L381.6,517.6 L378.4,517.4 L375.2,517.1 L372.0,516.9 L368.8,516.6 L365.7,516.3 L362.5,516.0 L359.3,515.7 L356.1,515.4 L352.9,515.1 L349.7,514.8 L346.5,514.4 L343.3,514.1 L340.1,513.7 L336.9,513.3 L333.7,512.9 L330.6,512.5 L327.4,512.1 L324.2,511.7 L321.0,511.2 L317.8,510.7 L314.6,510.2 L311.4,509.7 L308.2,509.2 L305.0,508.7 L301.8,508.1 L298.6,507.5 L295.5,506.9 L292.3,506.3 L289.1,505.6 L285.9,504.9 L282.7,504.2 L279.5,503.4 L276.3,502.7 L273.1,501.8 L269.9,501.0 L266.7,500.1 L263.5,499.2 L260.4,498.3 L257.2,497.3 L254.0,496.3 L250.8,495.3 L247.6,494.2 L244.4,493.1 L241.2,491.9 L238.0,490.7 L234.8,489.5 L231.6,488.2 L228.4,486.9 L225.3,485.6 L222.1,484.2 L218.9,482.8 L215.7,481.3 L212.5,479.8 L209.3,478.2 L206.1,476.5 L202.9,474.8 L199.7,473.1 L196.5,471.2 L193.3,469.3 L190.2,467.3 L187.0,465.2 L183.8,463.1 L180.6,460.9 L177.4,458.6 L174.2,456.2 L171.0,453.8 L167.8,451.3 L164.6,448.6 L161.4,445.9 L158.2,443.0 L155.1,440.1 L151.9,437.0 L148.7,433.7 L145.5,430.4 L142.3,426.9 L139.1,423.2 L135.9,419.4 L132.7,415.4 L129.5,411.3 L126.3,406.9 L123.1,402.3 L120.0,397.6 L116.8,392.6 L113.6,387.5 L110.4,382.2 L107.2,376.7 L104.0,370.9Z" fill="#d9d9d9"/>
<path d="M104.0,370.9 L107.2,375.2 L110.4,379.4 L113.5,383.5 L116.7,387.4 L119.9,391.3 L123.1,395.0 L126.3,398.6 L129.5,402.2 L132.6,405.6 L135.8,408.9 L139.0,412.2 L142.2,415.3 L145.4,418.4 L148.5,421.3 L151.7,424.2 L154.9,427.0 L158.1,429.8 L161.3,432.4 L164.4,435.0 L167.6,437.5 L170.8,440.0 L174.0,442.3 L177.2,444.6 L180.3,446.9 L183.5,449.0 L186.7,451.2 L189.9,453.2 L193.1,455.2 L196.2,457.2 L199.4,459.0 L202.6,460.9 L205.8,462.7 L209.0,464.4 L212.2,466.1 L215.3,467.7 L218.5,469.3 L221.7,470.9 L224.9,472.4 L228.1,473.8 L231.2,475.2 L234.4,476.6 L237.6,478.0 L240.8,479.3 L244.0,480.5 L247.1,481.8 L250.3,483.0 L253.5,484.1 L256.7,485.3 L259.9,486.4 L263.0,487.4 L266.2,488.5 L269.4,489.5 L272.6,490.5 L275.8,491.4 L279.0,492.3 L282.1,493.3 L285.3,494.1 L288.5,495.0 L291.7,495.8 L294.9,496.6 L298.0,497.4 L301.2,498.2 L304.4,498.9 L307.6,499.6 L310.8,500.3 L313.9,501.0 L317.1,501.6 L320.3,502.3 L323.5,502.9 L326.7,503.5 L329.8,504.1 L333.0,504.7 L336.2,505.2 L339.4,505.8 L342.6,506.3 L345.8,506.8 L348.9,507.3 L352.1,507.8 L355.3,508.3 L358.5,508.7 L361.7,509.1 L364.8,509.6 L368.0,510.0 L371.2,510.4 L374.4,510.8 L377.6,511.2 L380.7,511.6 L383.9,511.9 L387.1,512.3 L390.3,512.6 L393.5,512.9 L396.6,513.3 L399.8,513.6 L403.0,513.9 L406.2,514.2 L409.4,514.5 L412.6,514.8 L415.7,515.0 L418.9,515.3 L422.1,515.6" fill="none" stroke="#000" stroke-width="1.6" stroke-dasharray="5.9 2.56"/>
<path d="M104.0,370.9 L107.2,374.7 L110.4,378.3 L113.5,381.9 L116.7,385.4 L119.9,388.8 L123.1,392.2 L126.3,395.4 L129.5,398.6 L132.6,401.7 L135.8,404.7 L139.0,407.7 L142.2,410.5 L145.4,413.3 L148.5,416.1 L151.7,418.7 L154.9,421.3 L158.1,423.9 L161.3,426.3 L164.4,428.8 L167.6,431.1 L170.8,433.4 L174.0,435.7 L177.2,438.0 L180.3,440.2 L183.5,442.4 L186.7,444.5 L189.9,446.5 L193.1,448.5 L196.2,450.5 L199.4,452.4 L202.6,454.3 L205.8,456.1 L209.0,457.9 L212.2,459.6 L215.3,461.3 L218.5,463.0 L221.7,464.6 L224.9,466.2 L228.1,467.8 L231.2,469.3 L234.4,470.7 L237.6,472.0 L240.8,473.3 L244.0,474.6 L247.1,475.9 L250.3,477.1 L253.5,478.3 L256.7,479.5 L259.9,480.6 L263.0,481.8 L266.2,482.8 L269.4,483.9 L272.6,484.9 L275.8,485.9 L279.0,486.9 L282.1,487.9 L285.3,488.8 L288.5,489.7 L291.7,490.6 L294.9,491.4 L298.0,492.2 L301.2,493.0 L304.4,493.8 L307.6,494.5 L310.8,495.3 L313.9,496.0 L317.1,496.7 L320.3,497.4 L323.5,498.0 L326.7,498.7 L329.8,499.3 L333.0,499.9 L336.2,500.5 L339.4,501.1 L342.6,501.7 L345.8,502.2 L348.9,502.8 L352.1,503.3 L355.3,503.8 L358.5,504.3 L361.7,504.8 L364.8,505.3 L368.0,505.8 L371.2,506.2 L374.4,506.7 L377.6,507.1 L380.7,507.5 L383.9,507.9 L387.1,508.3 L390.3,508.7 L393.5,509.1 L396.6,509.5 L399.8,509.8 L403.0,510.2 L406.2,510.5 L409.4,510.9 L412.6,511.2 L415.7,511.5 L418.9,511.8 L422.1,512.1" fill="none" stroke="#000" stroke-width="1.7"/>
<rect x="88.3" y="355" width="349.9" height="173.1" fill="none" stroke="#000" stroke-width="2.1"/>
<g stroke="#000" stroke-width="2">
<path d="M79.3,524.5 H88.3"/>
<path d="M79.3,493.8 H88.3"/>
<path d="M79.3,463.1 H88.3"/>
<path d="M79.3,432.3 H88.3"/>
<path d="M79.3,401.6 H88.3"/>
<path d="M79.3,370.9 H88.3"/>
<path d="M99.0,528 V537.6"/>
<path d="M149.0,528 V537.6"/>
<path d="M199.1,528 V537.6"/>
<path d="M249.1,528 V537.6"/>
<path d="M299.1,528 V537.6"/>
<path d="M349.1,528 V537.6"/>
<path d="M399.2,528 V537.6"/>
</g>
<text class="s" x="69.5" y="529.2" font-size="13.3" text-anchor="end">0.0</text>
<text class="s" x="69.5" y="498.5" font-size="13.3" text-anchor="end">0.2</text>
<text class="s" x="69.5" y="467.8" font-size="13.3" text-anchor="end">0.4</text>
<text class="s" x="69.5" y="437.0" font-size="13.3" text-anchor="end">0.6</text>
<text class="s" x="69.5" y="406.3" font-size="13.3" text-anchor="end">0.8</text>
<text class="s" x="69.5" y="375.6" font-size="13.3" text-anchor="end">1.0</text>
<text class="s" x="99.0" y="555.6" font-size="13.3" text-anchor="middle" >0</text>
<text class="s" x="149.0" y="555.6" font-size="13.3" text-anchor="middle" >1000</text>
<text class="s" x="199.1" y="555.6" font-size="13.3" text-anchor="middle" >2000</text>
<text class="s" x="249.1" y="555.6" font-size="13.3" text-anchor="middle" >3000</text>
<text class="s" x="299.1" y="555.6" font-size="13.3" text-anchor="middle" >4000</text>
<text class="s" x="349.1" y="555.6" font-size="13.3" text-anchor="middle" >5000</text>
<text class="s" x="399.2" y="555.6" font-size="13.3" text-anchor="middle" >6000</text>
<text class="s" x="263.4" y="578.2" font-size="13.3" text-anchor="middle">Wait time T(<tspan font-style="italic" font-family='"DejaVu Sans",sans-serif'>μ</tspan>s)</text>
<text class="s" font-size="13.3" text-anchor="middle" transform="translate(26.6,441.3) rotate(-90)">Normalized Ramsey</text>
<text class="s" font-size="13.3" text-anchor="middle" transform="translate(42.4,439.5) rotate(-90)">fringe contrast</text>
<path d="M208.8,452.2 V464.2" stroke="#000" stroke-width="1.3"/>
<rect x="206.0" y="455.1" width="5.6" height="5.8" fill="#000"/>
<path d="M313.3,488.2 V499.9" stroke="#000" stroke-width="1.3"/>
<rect x="310.5" y="491.7" width="5.6" height="5.8" fill="#000"/>
<path d="M417.8,506.9 V519.6" stroke="#000" stroke-width="1.3"/>
<rect x="415.0" y="510.6" width="5.6" height="5.8" fill="#000"/>
<path d="M104.6,362.6 V378.6" stroke="#000" stroke-width="1.4"/>
<circle cx="104.6" cy="370.8" r="2.6" fill="#fff" stroke="#000" stroke-width="1.4"/>
<path d="M174.6,436.6 V453.4" stroke="#000" stroke-width="1.4"/>
<circle cx="174.6" cy="444.9" r="2.6" fill="#fff" stroke="#000" stroke-width="1.4"/>
<path d="M244.6,469.2 V482.5" stroke="#000" stroke-width="1.4"/>
<circle cx="244.6" cy="475.9" r="2.6" fill="#fff" stroke="#000" stroke-width="1.4"/>
<path d="M314.7,499.9 V511.0" stroke="#000" stroke-width="1.4"/>
<circle cx="314.7" cy="504.8" r="2.6" fill="#fff" stroke="#000" stroke-width="1.4"/>
<path d="M384.5,508.2 V518.3" stroke="#000" stroke-width="1.4"/>
<circle cx="384.5" cy="513.2" r="2.6" fill="#fff" stroke="#000" stroke-width="1.4"/>
<text class="s" x="299.3" y="376" font-size="16">Case-A:</text>
<text class="s" x="299.3" y="415.7" font-size="16">Case-B:</text>
<path d="M374.3,364.4 V377.3" stroke="#000" stroke-width="1.4"/>
<circle cx="374.3" cy="370.6" r="2.5" fill="#fff" stroke="#000" stroke-width="1.4"/>
<path d="M374.3,403.8 V417.0" stroke="#000" stroke-width="1.3"/>
<rect x="371.7" y="407.2" width="5.2" height="6.2" fill="#000"/>
<text class="s" x="398" y="375.3" font-size="13.3">Data</text>
<text class="s" x="398.6" y="395.2" font-size="13.3">Fit</text>
<text class="s" x="398" y="415" font-size="13.3">Data</text>
<text class="s" x="398.6" y="435.0" font-size="13.3">Fit</text>
<path d="M360.9,390.9 H387.3" stroke="#000" stroke-width="1.4" stroke-dasharray="5 2.15"/>
<path d="M361.9,430.8 H389.2" stroke="#000" stroke-width="1.4"/>
<rect x="455.6" y="333.5" width="198.9" height="116" fill="#fff" stroke="#3a3a3a" stroke-width="1.1"/>
<rect x="456.4" y="477.5" width="198.3" height="84.2" fill="#fff" stroke="#3a3a3a" stroke-width="1.1"/>
<text class="s" x="595.4" y="329.0" font-size="19.1">Probe</text>
<text class="s" x="461.3" y="358" font-size="19.1">Case-A</text>
<text class="s" x="461.3" y="500.3" font-size="19.1">Case-B</text>
<line x1="552.9" y1="347.4" x2="552.9" y2="557.5" stroke="#999" stroke-width="1.35" stroke-dasharray="5 3.66"/>
<line x1="609.4" y1="347.4" x2="609.4" y2="557.5" stroke="#999" stroke-width="1.35" stroke-dasharray="5 3.66"/>
<path d="M596.0,385.0 L596.5,384.1 L596.9,383.3 L597.3,382.5 L597.6,381.8 L597.8,381.2 L597.8,380.7 L597.8,380.3 L597.6,380.0 L597.2,379.9 L596.8,379.8 L596.2,379.9 L595.5,380.0 L594.8,380.3 L593.9,380.5 L593.1,380.8 L592.2,381.2 L591.4,381.5 L590.6,381.7 L589.9,381.9 L589.2,382.1 L588.6,382.1 L588.2,382.0 L587.9,381.9 L587.7,381.6 L587.6,381.2 L587.6,380.8 L587.7,380.2 L587.9,379.6 L588.2,378.9 L588.5,378.2 L588.9,377.4 L589.2,376.6 L589.5,375.9 L589.8,375.2 L590.0,374.6 L590.2,374.0 L590.2,373.5 L590.2,373.1 L590.0,372.8 L589.7,372.6 L589.3,372.5 L588.9,372.5 L588.3,372.5 L587.7,372.6 L587.0,372.8 L586.3,373.0 L585.6,373.2 L584.8,373.3 L584.1,373.5 L583.5,373.6 L582.9,373.7 L582.4,373.7 L582.0,373.6 L581.6,373.5 L581.4,373.3 L581.2,372.9 L581.2,372.5 L581.2,372.1 L581.3,371.5 L581.5,371.0 L581.6,370.3 L581.9,369.7 L582.1,369.1 L582.3,368.4 L582.4,367.8 L582.6,367.3 L582.6,366.8 L582.6,366.3 L582.6,365.9 L582.4,365.6 L582.2,365.4 L581.9,365.2 L581.5,365.1 L581.0,365.1 L580.5,365.1 L580.0,365.1 L579.4,365.2 L578.8,365.2 L578.2,365.3 L577.6,365.4 L577.1,365.4 L576.6,365.4 L576.1,365.4 L575.8,365.2 L575.7,364.8 L575.7,364.4 L575.7,363.9 L575.8,363.4 L575.8,363.0 L575.8,362.5 L575.7,362.1" fill="none" stroke="#000" stroke-width="1.75" stroke-linejoin="round"/>
<polygon points="573.4,359.5 578.4,361.7 575.0,364.8" fill="#000"/>
<path d="M615.0,381.0 L615.8,381.4 L616.6,381.8 L617.4,382.2 L618.1,382.5 L618.7,382.7 L619.2,382.8 L619.6,382.8 L620.0,382.6 L620.2,382.4 L620.3,382.0 L620.3,381.5 L620.3,380.9 L620.1,380.3 L619.9,379.5 L619.7,378.7 L619.4,377.9 L619.1,377.1 L618.9,376.3 L618.6,375.5 L618.5,374.8 L618.3,374.1 L618.3,373.6 L618.3,373.1 L618.4,372.7 L618.7,372.5 L619.0,372.3 L619.4,372.3 L619.8,372.3 L620.4,372.4 L621.0,372.6 L621.7,372.9 L622.4,373.2 L623.1,373.5 L623.8,373.8 L624.5,374.1 L625.2,374.4 L625.8,374.6 L626.4,374.8 L626.9,374.8 L627.3,374.8 L627.7,374.7 L627.9,374.5 L628.1,374.2 L628.2,373.8 L628.2,373.3 L628.2,372.7 L628.1,372.1 L628.0,371.5 L627.8,370.8 L627.7,370.1 L627.5,369.4 L627.4,368.7 L627.3,368.1 L627.2,367.5 L627.2,367.0 L627.2,366.6 L627.4,366.2 L627.6,365.9 L627.8,365.7 L628.2,365.6 L628.6,365.5 L629.0,365.6 L629.6,365.6 L630.1,365.8 L630.7,365.9 L631.3,366.1 L631.9,366.3 L632.5,366.5 L633.1,366.7 L633.7,366.8 L634.2,366.9 L634.7,366.9 L635.1,366.9 L635.4,366.7 L635.7,366.6 L635.9,366.3 L636.1,366.0 L636.2,365.6 L636.2,365.1 L636.2,364.6 L636.2,364.1 L636.2,363.6 L636.1,363.0 L636.1,362.4 L636.0,361.9 L636.0,361.3 L636.0,360.8 L636.1,360.4 L636.1,360.0 L636.4,359.7 L636.8,359.7 L637.2,359.7 L637.7,359.7 L638.2,359.7 L638.6,359.8 L639.1,359.8 L639.5,359.7" fill="none" stroke="#000" stroke-width="1.75" stroke-linejoin="round"/>
<polygon points="642.1,357.4 639.8,362.4 636.8,358.9" fill="#000"/>
<path d="M622.0,396.0 L622.3,397.0 L622.7,398.0 L623.0,398.8 L623.4,399.5 L623.7,399.9 L624.0,400.2 L624.4,400.3 L624.7,400.1 L625.0,399.7 L625.4,399.2 L625.7,398.5 L626.0,397.7 L626.4,396.8 L626.7,395.9 L627.0,395.0 L627.4,394.2 L627.7,393.5 L628.0,393.0 L628.3,392.6 L628.7,392.4 L629.0,392.3 L629.3,392.5 L629.7,392.8 L630.0,393.3 L630.4,393.9 L630.7,394.6 L631.0,395.3 L631.4,396.0 L631.7,396.8 L632.1,397.4 L632.4,398.0 L632.7,398.4 L633.1,398.7 L633.4,398.9 L633.7,398.9 L634.1,398.7 L634.4,398.4 L634.7,398.0 L635.1,397.5 L635.4,397.0 L635.7,396.4 L636.1,395.8 L636.4,395.2 L636.7,394.7 L637.1,394.3 L637.4,393.9 L637.7,393.7 L638.1,393.6 L638.4,393.6 L638.7,393.7 L639.1,394.0 L639.4,394.3 L639.8,394.7 L640.1,395.1 L640.4,395.6 L640.8,396.0 L641.1,396.4 L641.4,396.8 L641.8,397.1 L642.1,397.3 L642.5,397.5 L642.8,397.5 L643.1,397.5 L643.5,397.4 L643.8,397.2 L644.1,396.9 L644.5,396.7 L644.8,396.3 L645.1,396.0 L645.5,395.7 L645.8,395.5 L646.1,395.3 L646.5,395.3 L646.8,395.3 L647.1,395.4 L647.5,395.6 L647.8,395.7 L648.1,395.8" fill="none" stroke="#000" stroke-width="1.75" stroke-linejoin="round"/>
<polygon points="650.8,395.8 647.0,397.6 647.0,394.0" fill="#e8101a"/>
<path d="M600.0,404.0 L599.2,403.6 L598.3,403.3 L597.6,403.0 L596.9,402.8 L596.2,402.7 L595.7,402.6 L595.3,402.7 L594.9,402.8 L594.7,403.1 L594.6,403.4 L594.6,403.8 L594.6,404.4 L594.8,405.0 L595.0,405.7 L595.3,406.4 L595.6,407.2 L595.9,407.9 L596.2,408.7 L596.5,409.5 L596.8,410.2 L597.0,410.9 L597.1,411.5 L597.2,412.0 L597.2,412.4 L597.0,412.8 L596.8,413.0 L596.5,413.2 L596.1,413.3 L595.6,413.3 L595.0,413.2 L594.4,413.0 L593.7,412.9 L593.0,412.6 L592.3,412.4 L591.6,412.1 L590.9,411.9 L590.2,411.7 L589.5,411.6 L589.0,411.5 L588.4,411.4 L588.0,411.5 L587.7,411.6 L587.4,411.8 L587.2,412.1 L587.1,412.5 L587.1,412.9 L587.1,413.4 L587.2,414.0 L587.4,414.6 L587.6,415.3 L587.8,415.9 L588.0,416.6 L588.2,417.3 L588.3,417.9 L588.5,418.5 L588.6,419.0 L588.6,419.5 L588.5,419.9 L588.4,420.3 L588.2,420.6 L588.0,420.8 L587.6,420.9 L587.2,421.0 L586.8,421.0 L586.2,421.0 L585.7,420.9 L585.1,420.8 L584.5,420.7 L583.9,420.5 L583.3,420.4 L582.7,420.3 L582.1,420.2 L581.6,420.2 L581.1,420.2 L580.7,420.3 L580.4,420.4 L580.1,420.6 L579.9,420.8 L579.7,421.2 L579.6,421.5 L579.6,422.0 L579.6,422.4 L579.6,422.9 L579.7,423.5 L579.8,424.0 L579.8,424.6 L579.9,425.1 L580.0,425.7 L580.0,426.2 L580.1,426.6 L580.0,427.1 L580.0,427.5 L579.7,427.7 L579.3,427.8 L578.9,427.8 L578.4,427.8 L577.9,427.8 L577.5,427.9 L577.0,427.9 L576.6,428.0" fill="none" stroke="#000" stroke-width="1.75" stroke-linejoin="round"/>
<polygon points="574.2,430.5 576.0,425.3 579.3,428.5" fill="#000"/>
<path d="M618.0,402.0 L617.6,402.8 L617.2,403.6 L616.9,404.4 L616.6,405.1 L616.4,405.7 L616.3,406.3 L616.4,406.7 L616.5,407.0 L616.8,407.2 L617.2,407.3 L617.6,407.3 L618.2,407.3 L618.9,407.1 L619.6,406.9 L620.4,406.6 L621.2,406.4 L622.0,406.1 L622.8,405.8 L623.6,405.5 L624.3,405.3 L625.0,405.2 L625.5,405.1 L626.0,405.1 L626.4,405.3 L626.7,405.5 L626.8,405.8 L626.9,406.2 L626.8,406.7 L626.7,407.2 L626.5,407.8 L626.3,408.5 L626.0,409.2 L625.7,410.0 L625.4,410.7 L625.2,411.4 L624.9,412.1 L624.7,412.7 L624.6,413.3 L624.5,413.8 L624.6,414.2 L624.7,414.6 L624.9,414.8 L625.2,415.0 L625.6,415.1 L626.1,415.1 L626.6,415.0 L627.3,414.9 L627.9,414.8 L628.6,414.6 L629.3,414.5 L630.0,414.3 L630.6,414.1 L631.3,414.0 L631.8,413.9 L632.4,413.9 L632.8,413.9 L633.2,414.1 L633.5,414.2 L633.7,414.5 L633.8,414.8 L633.9,415.2 L633.9,415.7 L633.8,416.2 L633.7,416.8 L633.5,417.4 L633.4,418.0 L633.2,418.6 L633.0,419.2 L632.9,419.8 L632.8,420.4 L632.7,420.9 L632.7,421.4 L632.7,421.8 L632.9,422.1 L633.0,422.4 L633.3,422.6 L633.6,422.8 L634.0,422.9 L634.5,422.9 L635.0,422.9 L635.5,422.9 L636.1,422.8 L636.6,422.7 L637.2,422.7 L637.8,422.6 L638.3,422.6 L638.8,422.6 L639.3,422.6 L639.7,422.7 L639.9,422.9 L640.0,423.3 L640.0,423.8 L640.0,424.2 L640.0,424.7 L639.9,425.2 L640.0,425.6 L640.0,426.0" fill="none" stroke="#000" stroke-width="1.75" stroke-linejoin="round"/>
<polygon points="642.4,428.6 637.3,426.5 640.7,423.4" fill="#000"/>
<circle cx="553.4" cy="392.5" r="16.8" fill="#000"/>
<circle cx="608.3" cy="393.4" r="16.5" fill="#000"/>
<circle cx="553.2" cy="530.7" r="16.9" fill="#000"/>
<path d="M567.00,395.90 L567.25,395.79 L567.50,395.26 L567.75,394.81 L568.00,394.46 L568.25,394.24 L568.50,394.17 L568.75,394.26 L569.00,394.53 L569.25,395.00 L569.50,395.64 L569.75,396.29 L570.00,396.92 L570.25,397.54 L570.50,398.13 L570.75,398.67 L571.00,399.15 L571.25,399.58 L571.50,399.93 L571.75,400.20 L572.00,400.38 L572.25,400.48 L572.50,400.49 L572.75,400.41 L573.00,400.24 L573.25,399.99 L573.50,399.65 L573.75,399.24 L574.00,398.77 L574.25,398.24 L574.50,397.66 L574.75,397.05 L575.00,396.42 L575.25,395.77 L575.50,395.13 L575.75,394.50 L576.00,393.90 L576.25,393.34 L576.50,392.83 L576.75,392.39 L577.00,392.01 L577.25,391.70 L577.50,391.48 L577.75,391.35 L578.00,391.30 L578.25,391.35 L578.50,391.48 L578.75,391.70 L579.00,392.01 L579.25,392.39 L579.50,392.83 L579.75,393.34 L580.00,393.90 L580.25,394.50 L580.50,395.13 L580.75,395.77 L581.00,396.42 L581.25,397.05 L581.50,397.66 L581.75,398.24 L582.00,398.77 L582.25,399.24 L582.50,399.65 L582.75,399.99 L583.00,400.24 L583.25,400.41 L583.50,400.49 L583.75,400.48 L584.00,400.38 L584.25,400.20 L584.50,399.93 L584.75,399.58 L585.00,399.15 L585.25,398.67 L585.50,398.13 L585.75,397.54 L586.00,396.92 L586.25,396.29 L586.50,395.64 L586.75,395.00 L587.00,394.38 L587.25,393.79 L587.50,393.24 L587.75,392.74 L588.00,392.30 L588.25,391.94 L588.50,391.65 L588.75,391.45 L589.00,391.33 L589.25,391.30 L589.50,391.36 L589.75,391.52 L590.00,391.76 L590.25,392.08 L590.50,392.47 L590.75,392.93 L591.00,393.45 L591.25,394.02 L591.50,394.63 L591.75,395.26 L592.00,395.90 L592.25,396.54" fill="none" stroke="#fa0008" stroke-width="3" stroke-linejoin="round"/>
<polygon points="561.2,396.3 568.6,392.6 568.6,400" fill="#fa0008"/>
<polygon points="561.2,398.4 549.5,386.5 551.9,384.0 544.3,384.0 544.3,391.6 546.8,389.2 558.6,401.0" fill="#fff"/>
<polygon points="609.9,402.8 609.9,390.5 612.7,390.5 608.3,384.0 603.9,390.5 606.6,390.5 606.6,402.8" fill="#fff"/>
<polygon points="561.3,536.9 549.6,525.0 552.0,522.5 544.4,522.5 544.4,530.1 546.9,527.7 558.7,539.5" fill="#fff"/>
<path d="M609.7,335 V374" stroke="#000" stroke-width="5.5" fill="none"/>
<path d="M596.3,360.8 L609.7,372.4 L623.1000000000001,360.8" stroke="#000" stroke-width="5.5" fill="none" stroke-linejoin="miter"/>
<path d="M609.2,478 V515.9" stroke="#000" stroke-width="5.5" fill="none"/>
<path d="M595.8,502.7 L609.2,514.3 L622.6000000000001,502.7" stroke="#000" stroke-width="5.5" fill="none" stroke-linejoin="miter"/>
<line x1="562.3" y1="460.8" x2="600.7" y2="460.8" stroke="#000" stroke-width="2.4"/>
<polygon points="553.3,460.8 563.3,455.0 563.3,466.6" fill="#000"/>
<polygon points="609.7,460.8 599.7,455.0 599.7,466.6" fill="#000"/>
<text class="s" x="540.4" y="467.5" font-size="17.6" text-anchor="middle" >d</text>
<text class="s" x="552.7" y="581.2" font-size="18.2" text-anchor="middle" >1</text>
<text class="s" x="608.6" y="581.2" font-size="18.2" text-anchor="middle" >2</text>
</svg></body></html>
